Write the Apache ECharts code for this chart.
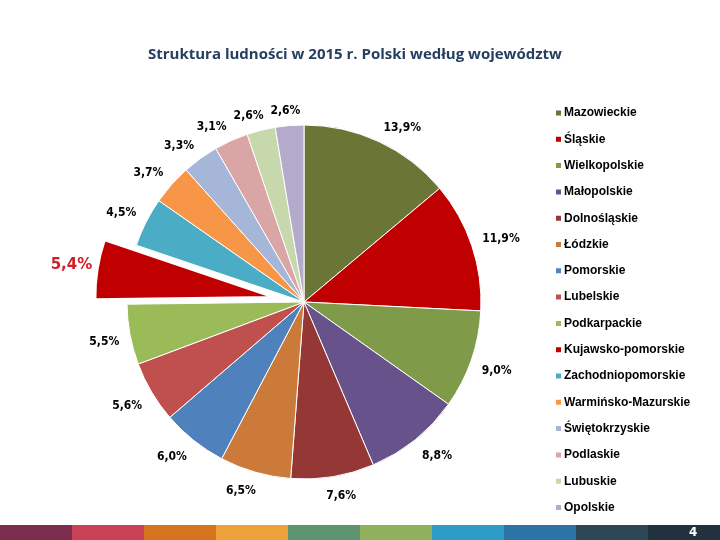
<!DOCTYPE html>
<html>
<head>
<meta charset="utf-8">
<script src="https://cdn.jsdelivr.net/npm/echarts@6/dist/echarts.min.js"></script>
<style>html,body{margin:0;padding:0;background:#fff}#c{width:720px;height:540px}</style>
</head>
<body>
<div id="c"></div>
<script>
const titleText = 'Struktura ludności w 2015 r. Polski według województw';
const regions = ['Mazowieckie','Śląskie','Wielkopolskie','Małopolskie','Dolnośląskie','Łódzkie','Pomorskie','Lubelskie','Podkarpackie','Kujawsko-pomorskie','Zachodniopomorskie','Warmińsko-Mazurskie','Świętokrzyskie','Podlaskie','Lubuskie','Opolskie'];
const shares = [13.9, 11.9, 9.0, 8.8, 7.6, 6.5, 6.0, 5.6, 5.5, 5.4, 4.5, 3.7, 3.3, 3.1, 2.6, 2.6];
const colors = ['#6A7536','#C00000','#7F9A48','#67528B','#953735','#CC7A3A','#4F81BD','#C0504D','#9BBB59','#C00000','#4BACC6','#F79646','#A5B6D8','#D9A6A5','#C6D8AC','#B4AACB'];
const exploded = 'Kujawsko-pomorskie';
const stripColors = ['#7B2D4E','#C94155','#D6731F','#EDA23C','#5E9470','#8FB15C','#2E9CC6','#2D74A6','#2D4756','#22313E'];
const pageNumber = '4';

const CX = 304, CY = 302, R = 177, GAP = 11;
const fmt = v => v.toFixed(1).replace('.', ',') + '%';
const clamp = v => Math.max(-1, Math.min(1, v));

const mainData = regions.map((n, i) => ({
  name: n, value: shares[i],
  selected: n === exploded,
  itemStyle: { color: colors[i], borderWidth: n === exploded ? 2 : 1 }
}));
const labelData = regions.map((n, i) => ({
  name: n, value: shares[i],
  selected: n === exploded,
  label: n === exploded ? { color: '#D0202A', fontSize: 15, fontFamily: 'DejaVu Sans', padding: [8, 0, 0, 5] } : {}
}));

const strip = stripColors.map((c, i) => ({
  type: 'rect', left: i * 72, top: 525, shape: { width: 72.5, height: 15 }, style: { fill: c }, silent: true
}));
strip.push({ type: 'text', left: 689, top: 527, style: { text: pageNumber, fill: '#fff', font: 'bold 12px "DejaVu Sans"' } });

const chart = echarts.init(document.getElementById('c'), null, { renderer: 'canvas' });
chart.setOption({
  animation: false,
  title: {
    text: titleText, left: 143, top: 42,
    textStyle: { fontFamily: 'Open Sans', fontWeight: 'bold', fontSize: 15, color: '#243F60' }
  },
  legend: {
    orient: 'vertical', left: 549, top: 100,
    itemWidth: 7, itemHeight: 7, itemGap: 10.3, icon: 'rect',
    data: regions,
    textStyle: { fontFamily: 'Liberation Sans', fontWeight: 'bold', fontSize: 12, color: '#000', lineHeight: 16, padding: [0, 0, 0, -3] }
  },
  graphic: strip,
  series: [
    {
      type: 'pie', center: [CX, CY], radius: R, startAngle: 90, clockwise: true,
      selectedMode: 'single', selectedOffset: 32, silent: true,
      itemStyle: { borderColor: '#fff', borderWidth: 1 },
      label: { show: false }, labelLine: { show: false },
      emphasis: { disabled: true },
      data: mainData
    },
    {
      type: 'pie', center: [CX, CY], radius: [193, 213], startAngle: 90, clockwise: true,
      selectedMode: 'single', selectedOffset: 32, silent: true,
      itemStyle: { color: 'rgba(0,0,0,0)', borderWidth: 0 },
      label: { show: true, position: 'inside', formatter: p => fmt(p.value),
        fontFamily: 'DejaVu Sans Condensed', fontWeight: 'bold', fontSize: 12, color: '#000' },
      labelLine: { show: false },
      emphasis: { disabled: true },
      tooltip: { show: false },
      labelLayout: function (p) {
        if (regions[p.dataIndex] === exploded) return {};
        const L = p.labelRect;
        const lx = L.x + L.width / 2, ly = L.y + L.height / 2;
        const dx = lx - CX, dy = ly - CY, d = Math.hypot(dx, dy);
        const ux = dx / d, uy = dy / d;
        const r = R + GAP;
        return {
          x: CX + ux * r + (L.width / 2) * clamp(2.7 * ux),
          y: CY + 2 + uy * r + (L.height / 2) * clamp(2.7 * uy)
        };
      },
      data: labelData
    }
  ]
});
</script>
</body>
</html>
